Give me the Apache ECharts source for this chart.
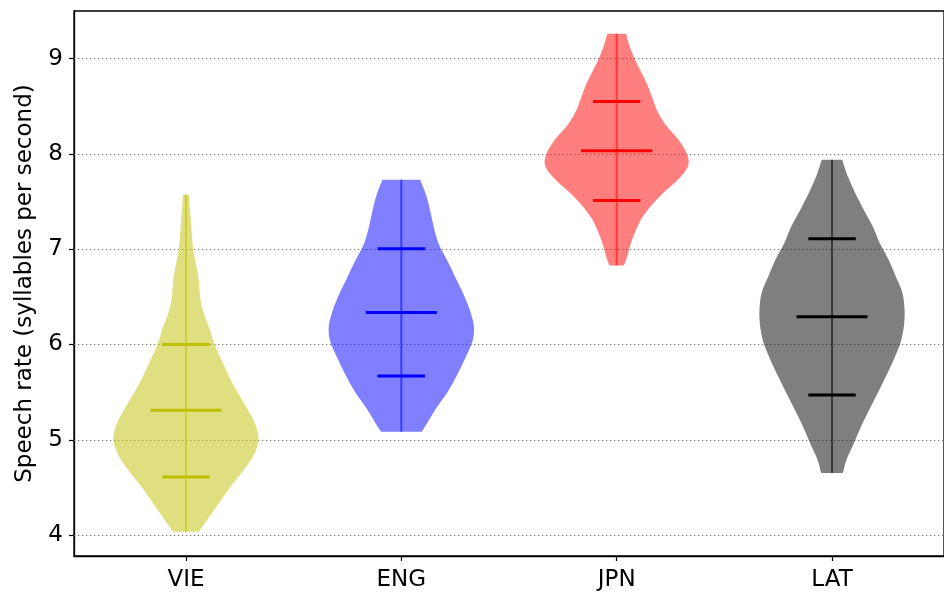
<!DOCTYPE html>
<html>
<head>
<meta charset="utf-8">
<script src="https://cdn.jsdelivr.net/npm/echarts@6/dist/echarts.min.js"></script>
<style>
  html, body { margin: 0; padding: 0; background: #fff; }
  #chart { width: 944px; height: 595px; }
</style>
</head>
<body>
<div id="chart"></div>
<script>
// Languages along the x axis, placed at positions 1..4
const categories = ['VIE', 'ENG', 'JPN', 'LAT'];
const positions = [1, 2, 3, 4];
const yTicks = [4, 5, 6, 7, 8, 9];

// Kernel density profiles: speech rate (syllables/s) and relative density (max = 1)
const vieRate    = [4.035, 4.123, 4.297, 4.473, 4.648, 4.822, 4.998, 5.173, 5.383, 5.594, 5.804, 6.003, 6.153, 6.293, 6.468, 6.713, 6.994, 7.274, 7.571];
const vieDensity = [0.18, 0.26, 0.42, 0.58, 0.76, 0.92, 1.00, 0.95, 0.80, 0.64, 0.51, 0.39, 0.33, 0.26, 0.20, 0.17, 0.10, 0.07, 0.04];

const engRate    = [5.085, 5.155, 5.331, 5.505, 5.681, 5.856, 6.030, 6.188, 6.346, 6.521, 6.696, 6.871, 7.046, 7.222, 7.396, 7.571, 7.729];
const engDensity = [0.28, 0.34, 0.48, 0.64, 0.77, 0.88, 0.98, 1.00, 0.95, 0.86, 0.75, 0.64, 0.52, 0.45, 0.40, 0.34, 0.26];

const jpnRate    = [6.83, 6.91, 7.05, 7.19, 7.33, 7.47, 7.61, 7.75, 7.89, 8.03, 8.17, 8.31, 8.45, 8.59, 8.73, 8.87, 9.01, 9.15, 9.26];
const jpnDensity = [0.10, 0.14, 0.19, 0.26, 0.35, 0.49, 0.67, 0.87, 0.99, 0.95, 0.83, 0.67, 0.56, 0.49, 0.42, 0.33, 0.24, 0.17, 0.13];

const latRate    = [4.65, 4.79, 4.96, 5.14, 5.31, 5.49, 5.66, 5.84, 6.01, 6.19, 6.36, 6.54, 6.71, 6.89, 7.06, 7.24, 7.41, 7.59, 7.76, 7.94];
const latDensity = [0.15, 0.20, 0.30, 0.40, 0.51, 0.63, 0.74, 0.85, 0.94, 0.99, 1.00, 0.97, 0.88, 0.78, 0.66, 0.56, 0.44, 0.32, 0.22, 0.14];

// Summary lines per language: lower, centre, upper
const lowerLine  = [4.61, 5.67, 7.51, 5.47];
const centerLine = [5.31, 6.335, 8.034, 6.29];
const upperLine  = [6.00, 7.004, 8.55, 7.109];

const rates = [vieRate, engRate, jpnRate, latRate];
const densities = [vieDensity, engDensity, jpnDensity, latDensity];
const colors = ['#bfbf00', '#0000ff', '#ff0000', '#000000'];

// Drawing constants (x-axis units)
const HALF_WIDTH = 0.337;
const CENTER_HALF = 0.165;
const SIDE_HALF = 0.11;

// Violin outline: each side is a smooth Catmull-Rom curve through its points,
// the flat ends are straight segments.
function curveThrough(ctx, p) {
  for (let i = 0; i < p.length - 1; i++) {
    const p0 = p[Math.max(i - 1, 0)], p1 = p[i], p2 = p[i + 1], p3 = p[Math.min(i + 2, p.length - 1)];
    ctx.bezierCurveTo(
      p1[0] + (p2[0] - p0[0]) / 6, p1[1] + (p2[1] - p0[1]) / 6,
      p2[0] - (p3[0] - p1[0]) / 6, p2[1] - (p3[1] - p1[1]) / 6,
      p2[0], p2[1]);
  }
}
const ViolinShape = echarts.graphic.extendShape({
  shape: { right: [], left: [] },
  buildPath(ctx, shape) {
    const r = shape.right, l = shape.left;
    if (!r.length) return;
    ctx.moveTo(r[0][0], r[0][1]);
    curveThrough(ctx, r);
    ctx.lineTo(l[0][0], l[0][1]);
    curveThrough(ctx, l);
    ctx.closePath();
  }
});
echarts.graphic.registerShape('violin', ViolinShape);

const chart = echarts.init(document.getElementById('chart'), null, { renderer: 'canvas' });

function renderViolin(params, api) {
  const i = params.dataIndex;
  const pos = positions[i];
  const ys = rates[i];
  const ds = densities[i];
  const right = [], left = [];
  for (let k = 0; k < ys.length; k++) right.push(api.coord([pos + ds[k] * HALF_WIDTH, ys[k]]));
  for (let k = ys.length - 1; k >= 0; k--) left.push(api.coord([pos - ds[k] * HALF_WIDTH, ys[k]]));
  const c = colors[i];
  const hline = (y, h) => {
    const a = api.coord([pos - h, y]);
    const b = api.coord([pos + h, y]);
    return { type: 'line', shape: { x1: a[0], y1: a[1], x2: b[0], y2: b[1] },
             style: { stroke: c, lineWidth: 3 } };
  };
  const top = api.coord([pos, ys[ys.length - 1]]);
  const bot = api.coord([pos, ys[0]]);
  return {
    type: 'group',
    children: [
      { type: 'violin', shape: { right: right, left: left }, style: { fill: c, opacity: 0.5 } },
      { type: 'line', shape: { x1: top[0], y1: top[1], x2: bot[0], y2: bot[1] },
        style: { stroke: c, lineWidth: 2, opacity: 0.55 } },
      hline(lowerLine[i], SIDE_HALF),
      hline(centerLine[i], CENTER_HALF),
      hline(upperLine[i], SIDE_HALF)
    ]
  };
}

const option = {
  animation: false,
  backgroundColor: '#ffffff',
  textStyle: { fontFamily: 'DejaVu Sans' },
  grid: { left: 74, top: 11, width: 880, height: 545, show: true, borderColor: '#000', borderWidth: 1.3, backgroundColor: 'transparent' },
  xAxis: {
    type: 'value', min: 0.48, max: 4.52,
    axisLine: { show: true, onZero: false, lineStyle: { color: '#000', width: 1.3 } },
    axisTick: { show: true, customValues: positions, length: 5, lineStyle: { color: '#000', width: 1.2 } },
    axisLabel: { customValues: positions, formatter: v => categories[Math.round(v) - 1] || '',
                 color: '#000', fontSize: 23, margin: 13, fontFamily: 'DejaVu Sans' },
    splitLine: { show: false }
  },
  yAxis: {
    type: 'value', min: 3.78, max: 9.5,
    name: 'Speech rate (syllables per second)', nameLocation: 'middle', nameRotate: 90, nameGap: 37,
    nameTextStyle: { color: '#000', fontSize: 23, fontFamily: 'DejaVu Sans' },
    axisLine: { show: true, onZero: false, lineStyle: { color: '#000', width: 1.3 } },
    axisTick: { show: true, customValues: yTicks, length: 5, lineStyle: { color: '#000', width: 1.2 } },
    axisLabel: { customValues: yTicks, color: '#000', fontSize: 23, margin: 11, fontFamily: 'DejaVu Sans' },
    splitLine: { show: false }
  },
  series: [
    {
      type: 'line', data: [], silent: true, z: 1,
      markLine: {
        silent: true, z: 1, symbol: ['none', 'none'], label: { show: false },
        lineStyle: { color: '#777', width: 1.1, type: [1.3, 2.7] },
        data: yTicks.map(v => ({ yAxis: v }))
      }
    },
    {
      type: 'custom',
      renderItem: renderViolin,
      data: positions.map(p => [p]),
      encode: { x: 0 },
      z: 3
    }
  ]
};
chart.setOption(option);
</script>
</body>
</html>
